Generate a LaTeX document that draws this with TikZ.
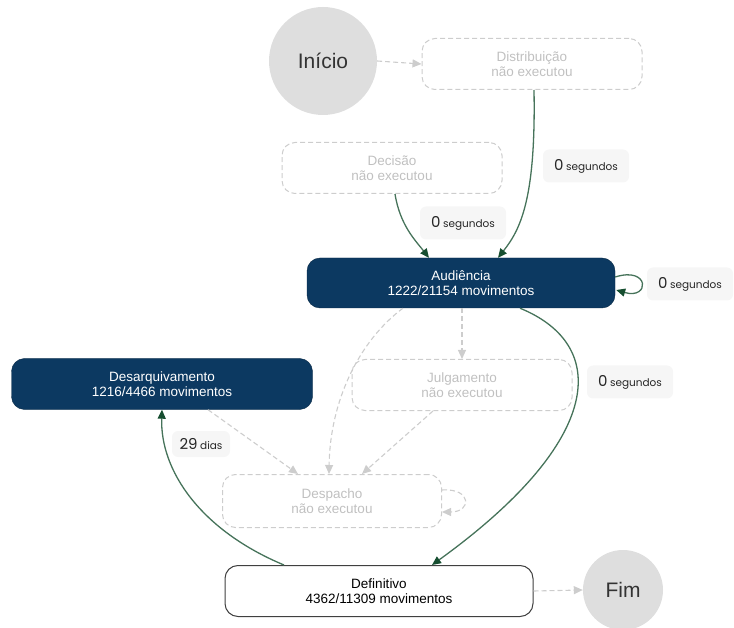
\documentclass[tikz,border=0pt]{standalone}
\usepackage{fontspec}
\setmainfont{Liberation Sans}
\newfontfamily\tagfont{Poppins}
\usetikzlibrary{arrows.meta,calc}
\definecolor{boxblue}{RGB}{12,57,97}
\definecolor{flowgreen}{RGB}{70,115,90}
\definecolor{tipgreen}{RGB}{22,78,48}
\definecolor{ghost}{RGB}{205,205,205}
\definecolor{ghosttext}{RGB}{192,192,192}
\definecolor{startgray}{RGB}{222,222,222}
\definecolor{tagfill}{RGB}{246,246,246}
\tikzstyle{active}=[draw=boxblue!70!black, fill=boxblue, text=white, rounded corners=13pt, minimum width=308pt, minimum height=50pt, align=center, font=\fontsize{13.5}{15.5}\selectfont]
\tikzstyle{idle}=[draw=ghost, dash pattern=on 5pt off 3pt, line width=1pt, rounded corners=13pt, minimum width=220pt, minimum height=51pt, align=center, text=ghosttext, font=\fontsize{13.5}{15.5}\selectfont]
\tikzstyle{final}=[draw=black!75, line width=1pt, fill=white, rounded corners=13pt, minimum width=308pt, minimum height=51pt, align=center, font=\fontsize{13.5}{15.5}\selectfont]
\tikzstyle{terminal}=[circle, fill=startgray, text=black!80, font=\fontsize{21}{24}\selectfont]
\tikzstyle{flow}=[draw=flowgreen, line width=1.3pt, -{Triangle[length=9pt,width=8pt,color=tipgreen]}]
\tikzstyle{skipped}=[draw=ghost, dash pattern=on 5pt off 3pt, line width=1.1pt, -{Triangle[length=9pt,width=8pt]}]
\tikzstyle{tag}=[fill=tagfill, rounded corners=6pt, minimum width=86pt, minimum height=33pt, inner sep=2pt, text=black!85]
\newcommand{\drawtag}[5]{
  \node[tag,#2] (#1) at (#3) {\tagfont\fontsize{15}{17}\selectfont #4\,\fontsize{10.5}{12}\selectfont #5};
}

\begin{document}
\begin{tikzpicture}[x=1pt,y=-1pt]
  \useasboundingbox (0,0) rectangle (734,628);
  \begin{scope}
  % states
  \node[terminal, minimum size=108pt] (inicio) at (323,61) {Início};
  \node[idle] (distrib) at (532,64) {Distribuição\\não executou};
  \node[idle] (decisao) at (392,168) {Decisão\\não executou};
  \node[active] (audiencia) at (461,283) {Audiência\\1222/21154 movimentos};
  \node[active, minimum width=301pt, minimum height=51pt] (desarq) at (162,384) {Desarquivamento\\1216/4466 movimentos};
  \node[idle] (julgam) at (462,385) {Julgamento\\não executou};
  \node[idle, minimum width=219pt, minimum height=53pt] (despacho) at (332,501) {Despacho\\não executou};
  \node[final] (definitivo) at (379,591) {Definitivo\\4362/11309 movimentos};
  \node[terminal, minimum size=80pt] (fim) at (623,590) {Fim};

  % times
  \drawtag{t1}{}{586,166}{0}{segundos}
  \drawtag{t2}{}{463,223}{0}{segundos}
  \drawtag{t3}{}{690,284}{0}{segundos}
  \drawtag{t4}{}{630,382}{0}{segundos}
  \drawtag{t5}{minimum width=58pt, minimum height=26pt}{201,444}{29}{dias}

  % paths not taken
  \draw[skipped] (inicio.east) -- (distrib.west);
  \draw[skipped] (audiencia.south -| julgam.north) -- (julgam.north);
  \draw[skipped] ($(audiencia.south)+(-58,0)$) .. controls (360,340) and (330,400) .. ($(despacho.north)+(-3,0)$);
  \draw[skipped] ($(julgam.south)+(-29,0)$) -- ($(despacho.north)+(30,0)$);
  \draw[skipped] ($(desarq.south)+(46,0)$) -- ($(despacho.north)+(-34,0)$);
  \draw[skipped] ($(despacho.east)+(0,-11)$) .. controls (472,488) and (472,512) .. ($(despacho.east)+(0,11)$);
  \draw[skipped] (definitivo.east) -- (fim.west);

  % paths taken
  \draw[flow] ($(distrib.south)+(2,0)$) .. controls (536,200) and (520,230) .. ($(audiencia.north)+(37,0)$);
  \draw[flow] ($(decisao.south)+(3,0)$) .. controls (400,225) and (415,240) .. ($(audiencia.north)+(-32,0)$);
  \draw[flow] ($(audiencia.east)+(0,-6)$) .. controls (650,266) and (650,300) .. ($(audiencia.east)+(1,7)$);
  \draw[flow] ($(audiencia.south)+(59,0)$) .. controls (610,345) and (605,440) .. ($(definitivo.north)+(53,0)$);
  \draw[flow] ($(definitivo.north)+(-95,0)$) .. controls (200,530) and (160,470) .. (desarq.south);
  \end{scope}
\end{tikzpicture}
\end{document}
